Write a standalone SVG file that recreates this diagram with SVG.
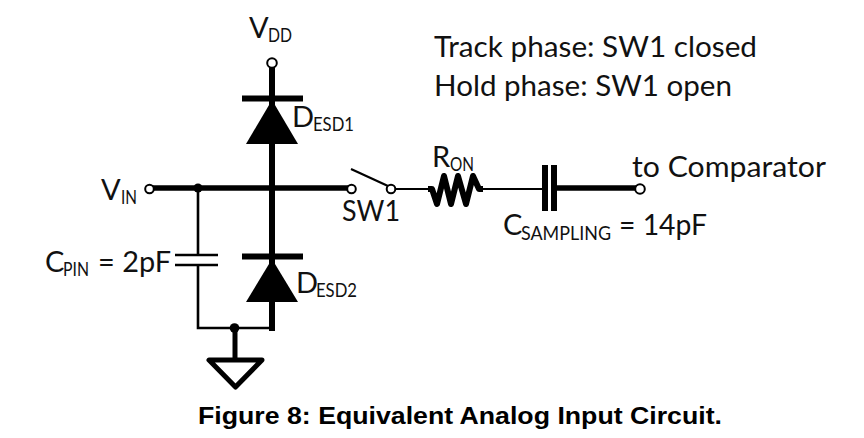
<svg xmlns="http://www.w3.org/2000/svg" width="864" height="438" viewBox="0 0 864 438">
<style>
text{font-family:"Lato","Open Sans","Liberation Sans",sans-serif;fill:#111;font-size:29px}
tspan.s{font-size:20px}
.cap{font-family:"Liberation Sans",Arial,sans-serif;font-weight:700;font-size:23.500px;fill:#000}
.w{fill:none;stroke:#000;stroke-linecap:butt}
.t{stroke-width:6}.m{stroke-width:2.600}.n{stroke-width:2}
.o{fill:#fff;stroke:#000;stroke-width:2}
</style>
<rect width="864" height="438" fill="#fff"/>
<g id="connectors">
<path class="w t" d="M272 66V331"/>
<path class="w" stroke-width="5.500" d="M152 188H348"/>
<path class="w m" d="M198 188V255M198 265V328H272"/>
<path class="w" stroke-width="5" d="M235 328V360"/>
<path class="w n" d="M394 189H428M483 189H545"/>
<path class="w" stroke-width="5.500" d="M554 188H637"/>
</g>
<g id="vdd"><circle class="o" cx="272" cy="63" r="4.800"/><text x="249" y="38">V<tspan class="s" x="268" y="42" textLength="24" lengthAdjust="spacingAndGlyphs">DD</tspan></text></g>
<g id="d-esd1"><path class="w" stroke-width="6" d="M242 98.500H303"/><path d="M272 100L246 144H298Z"/><text x="292" y="127">D<tspan class="s" x="313" y="131" textLength="41" lengthAdjust="spacingAndGlyphs">ESD1</tspan></text></g>
<g id="d-esd2"><path class="w" stroke-width="6" d="M242 256.500H303"/><path d="M272 259L246 302H298Z"/><text x="296" y="293">D<tspan class="s" x="316" y="297" textLength="41" lengthAdjust="spacingAndGlyphs">ESD2</tspan></text></g>
<g id="vin"><circle class="o" cx="149.500" cy="189" r="4.300"/><text x="101" y="200">V<tspan class="s" x="121" y="204" textLength="16" lengthAdjust="spacingAndGlyphs">IN</tspan></text></g>
<g id="junctions"><circle cx="198" cy="188" r="4.500"/><circle cx="234.500" cy="328" r="4.800"/></g>
<g id="c-pin"><path class="w m" d="M175 255H218M175 265H218"/><text x="45" y="272">C<tspan class="s" x="63" y="276" textLength="26" lengthAdjust="spacingAndGlyphs">PIN</tspan><tspan x="98" y="272" textLength="73" lengthAdjust="spacingAndGlyphs">= 2pF</tspan></text></g>
<g id="gnd"><path class="w" stroke-width="5" stroke-linejoin="round" d="M209 360H262L235.500 387Z"/></g>
<g id="sw1"><path class="w" stroke-width="2.200" d="M351 169L388 186"/><circle class="o" cx="351.500" cy="189" r="4.300"/><circle class="o" cx="391" cy="189" r="4.300"/><text x="342" y="221" textLength="58" lengthAdjust="spacingAndGlyphs">SW1</text></g>
<g id="r-on"><path class="w" stroke-width="6" stroke-linejoin="round" stroke-linecap="round" d="M428 189H432L437 204L444 176L451 204L458 176L466 204L473 176L479 189H483"/><text x="432" y="167">R<tspan class="s" x="450" y="171" textLength="24" lengthAdjust="spacingAndGlyphs">ON</tspan></text></g>
<g id="c-sampling"><path class="w" stroke-width="6" d="M545 165V211M554 165V211"/><text x="503" y="235">C<tspan class="s" x="521" y="240" textLength="90" lengthAdjust="spacingAndGlyphs">SAMPLING</tspan><tspan x="619" y="235" textLength="88" lengthAdjust="spacingAndGlyphs">= 14pF</tspan></text></g>
<g id="comparator"><circle class="o" cx="640" cy="189" r="4.800"/><text x="632" y="177" textLength="194" lengthAdjust="spacingAndGlyphs">to Comparator</text></g>
<text x="434" y="57" textLength="323" lengthAdjust="spacingAndGlyphs">Track phase: SW1 closed</text>
<text x="434" y="96" textLength="298" lengthAdjust="spacingAndGlyphs">Hold phase: SW1 open</text>
<text class="cap" x="198" y="424" textLength="524" lengthAdjust="spacingAndGlyphs">Figure 8: Equivalent Analog Input Circuit.</text>
</svg>
